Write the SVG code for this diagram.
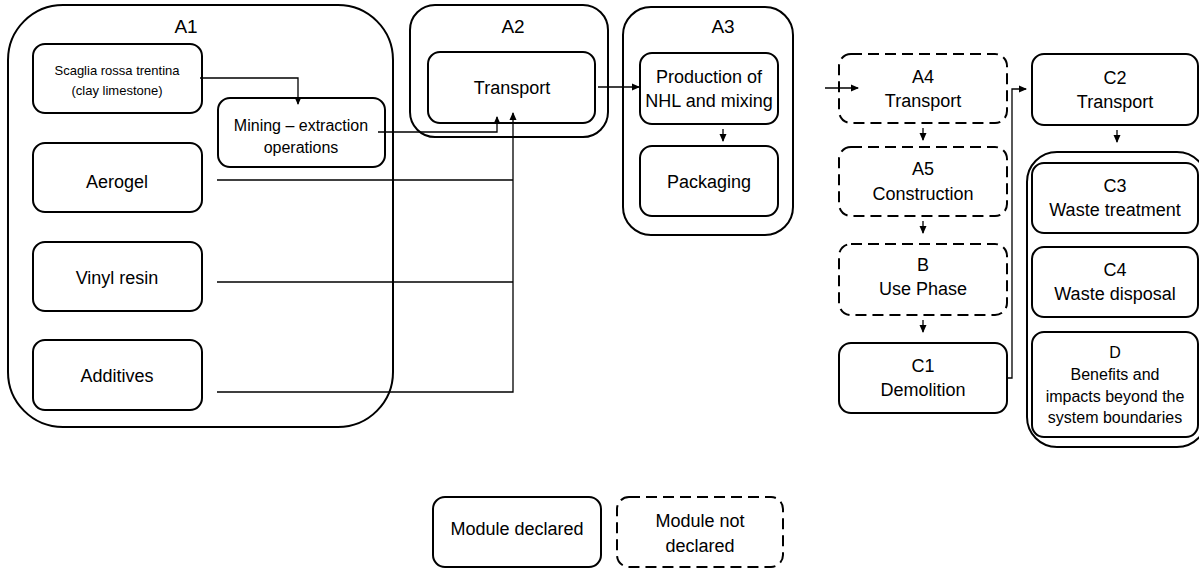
<svg xmlns="http://www.w3.org/2000/svg" width="1199" height="568" viewBox="0 0 1199 568">
<style>
.b{fill:#fff;stroke:#000;stroke-width:2}
.g{fill:none;stroke:#000;stroke-width:2}
.d{fill:#fff;stroke:#000;stroke-width:2;stroke-dasharray:11,6}
.c{fill:none;stroke:#000;stroke-width:1.3}
text{font-family:"Liberation Sans",Arial,sans-serif;font-size:18px;text-anchor:middle;fill:#000}
.s{font-size:13px}
.m{font-size:16px}
.h{font-size:19px}
</style>
<defs>
<marker id="ar" markerWidth="8" markerHeight="8" refX="7" refY="4" orient="auto" markerUnits="userSpaceOnUse">
<path d="M0,0.5 L8,4 L0,7.5 Z" fill="#000"/>
</marker>
</defs>
<rect width="1199" height="568" fill="#fff"/>
<g id="A1"><rect class="g" x="8" y="5" width="385" height="422" rx="55"/><text class="h" x="186" y="33">A1</text></g>
<g id="scaglia"><rect class="b" x="33" y="44" width="169" height="69" rx="12"/><text class="s" x="117" y="75">Scaglia rossa trentina</text><text class="s" x="117" y="95">(clay limestone)</text></g>
<g id="mining"><rect class="b" x="218" y="98" width="167" height="69" rx="12"/><text class="m" x="301" y="131">Mining – extraction</text><text class="m" x="301" y="153">operations</text></g>
<g id="aerogel"><rect class="b" x="33" y="143" width="169" height="69" rx="12"/><text x="117" y="188">Aerogel</text></g>
<g id="vinyl"><rect class="b" x="33" y="242" width="169" height="69" rx="12"/><text x="117" y="284">Vinyl resin</text></g>
<g id="additives"><rect class="b" x="33" y="340" width="169" height="70" rx="12"/><text x="117" y="382">Additives</text></g>
<g id="A2"><rect class="g" x="410" y="5" width="198" height="132" rx="25"/><text class="h" x="513" y="33">A2</text></g>
<g id="transportA2"><rect class="b" x="428" y="52" width="167" height="71" rx="12"/><text x="512" y="94">Transport</text></g>
<g id="A3"><rect class="g" x="623" y="7" width="170" height="228" rx="28"/><text class="h" x="723" y="33">A3</text></g>
<g id="production"><rect class="b" x="640" y="53" width="138" height="71" rx="12"/><text x="709" y="83">Production of</text><text x="709" y="107">NHL and mixing</text></g>
<g id="packaging"><rect class="b" x="640" y="146" width="138" height="70" rx="12"/><text x="709" y="188">Packaging</text></g>
<g id="A4"><rect class="d" x="839" y="54" width="168" height="69" rx="12"/><text x="923" y="83">A4</text><text x="923" y="107">Transport</text></g>
<g id="A5"><rect class="d" x="839" y="147" width="168" height="69" rx="12"/><text x="923" y="175">A5</text><text x="923" y="200">Construction</text></g>
<g id="B"><rect class="d" x="839" y="244" width="168" height="71" rx="12"/><text x="923" y="271">B</text><text x="923" y="295">Use Phase</text></g>
<g id="C1"><rect class="b" x="839" y="343" width="168" height="70" rx="12"/><text x="923" y="372">C1</text><text x="923" y="396">Demolition</text></g>
<g id="C2"><rect class="b" x="1032" y="54" width="166" height="71" rx="12"/><text x="1115" y="84">C2</text><text x="1115" y="108">Transport</text></g>
<g id="Cgroup"><rect class="g" x="1027" y="152" width="180" height="295" rx="30"/></g>
<g id="C3"><rect class="b" x="1032" y="163" width="166" height="70" rx="12"/><text x="1115" y="192">C3</text><text x="1115" y="216">Waste treatment</text></g>
<g id="C4"><rect class="b" x="1032" y="247" width="166" height="70" rx="12"/><text x="1115" y="276">C4</text><text x="1115" y="300">Waste disposal</text></g>
<g id="D"><rect class="b" x="1032" y="332" width="166" height="105" rx="12"/><text class="m" x="1115" y="358">D</text><text class="m" x="1115" y="380">Benefits and</text><text class="m" x="1115" y="402">impacts beyond the</text><text class="m" x="1115" y="423">system boundaries</text></g>
<g id="legend-declared"><rect class="b" x="433" y="497" width="168" height="70" rx="12"/><text x="517" y="535">Module declared</text></g>
<g id="legend-notdeclared"><rect class="d" x="617" y="497" width="166" height="70" rx="12"/><text x="700" y="527">Module not</text><text x="700" y="552">declared</text></g>
<g id="connectors">
<path class="c" d="M200,78 H298 V104" marker-end="url(#ar)"/>
<path class="c" d="M378,132 H497 V117" marker-end="url(#ar)"/>
<path class="c" d="M217,180 H513"/>
<path class="c" d="M217,282 H513"/>
<path class="c" d="M217,392 H513 V113" marker-end="url(#ar)"/>
<path class="c" d="M598,87 H639" marker-end="url(#ar)"/>
<path class="c" d="M723,129 V141" marker-end="url(#ar)"/>
<path class="c" d="M825,88 H858" marker-end="url(#ar)"/>
<path class="c" d="M923,128 V140" marker-end="url(#ar)"/>
<path class="c" d="M923,221 V233" marker-end="url(#ar)"/>
<path class="c" d="M923,320 V332" marker-end="url(#ar)"/>
<path class="c" d="M1007,378 H1012 V89 H1026" marker-end="url(#ar)"/>
<path class="c" d="M1117,130 V142" marker-end="url(#ar)"/>
</g>
</svg>
